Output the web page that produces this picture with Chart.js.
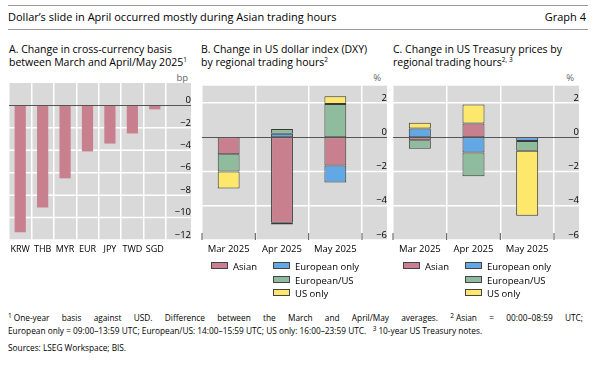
<!DOCTYPE html>
<html>
<head>
<meta charset="utf-8">
<script src="https://cdn.jsdelivr.net/npm/chart.js@4"></script>
<style>
body { margin: 0; width: 602px; height: 375px; background: #fff; font-family: "Open Sans", sans-serif; color: #000; position: relative; overflow: hidden; }
.rule { position: absolute; left: 8px; width: 580px; height: 0; border-top: 1.5px solid #9a9a9a; }
.t { position: absolute; white-space: nowrap; }
.head { top: 9px; font-size: 11px; line-height: 15px; }
.ptitle { top: 43px; font-size: 10.5px; line-height: 12.5px; }
.unit { top: 71px; font-size: 9.5px; color: #666; text-align: right; width: 30px; }
sup { font-size: 6.5px; vertical-align: top; position: relative; top: -2px; }
canvas { position: absolute; }
.leg { position: absolute; font-size: 9.5px; line-height: 12.5px; white-space: nowrap; }
.sw { display: inline-block; width: 15px; height: 5px; border: 1px solid #444; margin-right: 5px; vertical-align: 1px; }
.foot { position: absolute; left: 8px; width: 575px; font-size: 8.3px; line-height: 11px; }
.foot sup { margin-right: 2px; }
.j { text-align: justify; text-align-last: justify; }
</style>
</head>
<body>
<div class="rule" style="top:5px"></div>
<div class="t head" style="left:8px">Dollar’s slide in April occurred mostly during Asian trading hours</div>
<div class="t head" style="right:16px">Graph 4</div>
<div class="rule" style="top:29px"></div>

<div class="t ptitle" style="left:9px">A. Change in cross-currency basis<br>between March and April/May 2025<sup>1</sup></div>
<div class="t ptitle" style="left:201px">B. Change in US dollar index (DXY)<br>by regional trading hours<sup>2</sup></div>
<div class="t ptitle" style="left:393px">C. Change in US Treasury prices by<br>regional trading hours<sup>2, 3</sup></div>
<div class="t unit" style="left:158px">bp</div>
<div class="t unit" style="left:351px">%</div>
<div class="t unit" style="left:544px">%</div>

<canvas id="chartA" width="200" height="190" style="left:0px;top:70px"></canvas>
<canvas id="chartB" width="200" height="190" style="left:195px;top:70px"></canvas>
<canvas id="chartC" width="200" height="190" style="left:388px;top:70px"></canvas>

<div id="legB"></div>
<div id="legC"></div>

<div class="foot j" style="top:312px"><sup>1</sup>One-year basis against USD. Difference between the March and April/May averages. <sup>2</sup>Asian = 00:00–08:59 UTC;</div>
<div class="foot" style="top:325px">European only = 09:00–13:59 UTC; European/US: 14:00–15:59 UTC; US only: 16:00–23:59 UTC. &nbsp; <sup>3</sup>10-year US Treasury notes.</div>
<div class="foot" style="top:342px">Sources: LSEG Workspace; BIS.</div>

<script>
// panel A: cross-currency basis change, bp
const basisCurrencies = ["KRW", "THB", "MYR", "EUR", "JPY", "TWD", "SGD"];
const basisChange = [-11.3, -9.1, -6.5, -4.1, -3.4, -2.5, -0.35];
const basisTicks = [0, -2, -4, -6, -8, -10, -12];

// panels B and C: contributions by trading hours, %
const months = ["Mar 2025", "Apr 2025", "May 2025"];
const dxyAsian = [-1.0, -5.0, -1.65];
const dxyEurOnly = [0, 0.2, -1.0];
const dxyEurUs = [-1.0, 0.28, 1.93];
const dxyUsOnly = [-1.0, -0.1, 0.46];

const ustAsian = [-0.18, 0.8, 0];
const ustEurOnly = [0.5, -0.9, -0.22];
const ustEurUs = [-0.5, -1.38, -0.58];
const ustUsOnly = [0.34, 1.1, -3.78];

const pctTicks = [2, 0, -2, -4, -6];

const seriesNames = ["Asian", "European only", "European/US", "US only"];
const seriesColors = ["#c8808f", "#62a8e5", "#8fbc9d", "#fde86b"];

const minus = (v) => String(v).replace("-", "\u2212");

// grey panel behind plot and axis labels, white grid lines, dark zero line
const panelPlugin = {
  id: "panel",
  beforeDraw(chart) {
    const { ctx, chartArea: a } = chart;
    const y = chart.scales.y;
    ctx.save();
    ctx.fillStyle = "#d9d9d9";
    ctx.fillRect(a.left, a.top, y.right - a.left, a.bottom - a.top);
    ctx.strokeStyle = "#ffffff";
    ctx.lineWidth = 1.5;
    y.ticks.forEach((t) => {
      if (t.value === 0) return;
      const py = y.getPixelForValue(t.value);
      ctx.beginPath();
      ctx.moveTo(a.left, py);
      ctx.lineTo(y.right, py);
      ctx.stroke();
    });
    ctx.restore();
  },
  afterDatasetsDraw(chart, args, opts) {
    const { ctx, chartArea: a } = chart;
    const x = chart.scales.x;
    const y = chart.scales.y;
    ctx.save();
    ctx.strokeStyle = "#555";
    ctx.lineWidth = 1;
    const z = Math.round(y.getPixelForValue(0)) + 0.5;
    ctx.beginPath();
    ctx.moveTo(a.left, z);
    ctx.lineTo(y.right, z);
    ctx.stroke();
    if (opts.bottomTicks) {
      const n = x.ticks.length;
      for (let i = 0; i <= n; i++) {
        let px;
        if (i === 0) px = a.left;
        else if (i === n) px = a.right;
        else px = (x.getPixelForValue(i - 1) + x.getPixelForValue(i)) / 2;
        ctx.beginPath();
        ctx.moveTo(px, a.bottom - 7);
        ctx.lineTo(px, a.bottom);
        ctx.stroke();
      }
    }
    ctx.restore();
  },
};

function scalesFor(min, max, tickValues, pad, xSize, stacked) {
  return {
    x: {
      stacked: stacked,
      grid: { color: "#ffffff", lineWidth: 1.5, drawTicks: false },
      border: { display: false },
      ticks: { color: "#000", font: { family: "Open Sans", size: xSize }, padding: 4, maxRotation: 0, autoSkip: false },
      afterFit: (s) => { s.height = 20; },
    },
    y: {
      stacked: stacked,
      position: "right",
      min: min,
      max: max,
      grid: { display: false },
      border: { display: false },
      afterBuildTicks: (s) => { s.ticks = tickValues.map((v) => ({ value: v })); },
      afterFit: (s) => { s.width = 25; },
      ticks: {
        color: "#000",
        font: { family: "Open Sans", size: 9.5 },
        crossAlign: "far",
        padding: pad,
        labelOffset: -5,
        callback: (v) => minus(v),
      },
    },
  };
}

new Chart(document.getElementById("chartA"), {
  type: "bar",
  data: {
    labels: basisCurrencies,
    datasets: [{ data: basisChange, backgroundColor: "#c8808f", barPercentage: 0.5, categoryPercentage: 1 }],
  },
  options: {
    responsive: false,
    animation: false,
    layout: { padding: { left: 9, top: 13, right: 9, bottom: 0 } },
    plugins: { legend: { display: false }, tooltip: { enabled: false }, panel: { bottomTicks: false } },
    scales: scalesFor(-12, 2, basisTicks, 6, 9, false),
  },
  plugins: [panelPlugin],
});

function stackedChart(id, values, padLeft, padRight) {
  new Chart(document.getElementById(id), {
    type: "bar",
    data: {
      labels: months,
      datasets: values.map((vals, i) => ({
        label: seriesNames[i],
        data: vals,
        backgroundColor: seriesColors[i],
        borderColor: "#3a3a3a",
        borderWidth: 1,
        borderSkipped: false,
        barPercentage: 0.41,
        categoryPercentage: 1,
      })),
    },
    options: {
      responsive: false,
      animation: false,
      layout: { padding: { left: padLeft, top: 13, right: padRight, bottom: 0 } },
      plugins: { legend: { display: false }, tooltip: { enabled: false }, panel: { bottomTicks: true } },
      scales: scalesFor(-6, 3, pctTicks, 10, 9.5, true),
    },
    plugins: [panelPlugin],
  });
}

stackedChart("chartB", [dxyAsian, dxyEurOnly, dxyEurUs, dxyUsOnly], 7, 8);
stackedChart("chartC", [ustAsian, ustEurOnly, ustEurUs, ustUsOnly], 5, 9);

// legends below panels B and C
function legend(id, left) {
  const el = document.getElementById(id);
  const place = [[0, 0], [62, 0], [62, 1], [62, 2]];
  el.innerHTML = seriesNames.map((name, i) =>
    `<div class="leg" style="left:${left + place[i][0]}px;top:${261 + place[i][1] * 13.5}px">` +
    `<span class="sw" style="background:${seriesColors[i]}"></span>${name}</div>`
  ).join("");
}
legend("legB", 211);
legend("legC", 403);
</script>
</body>
</html>
